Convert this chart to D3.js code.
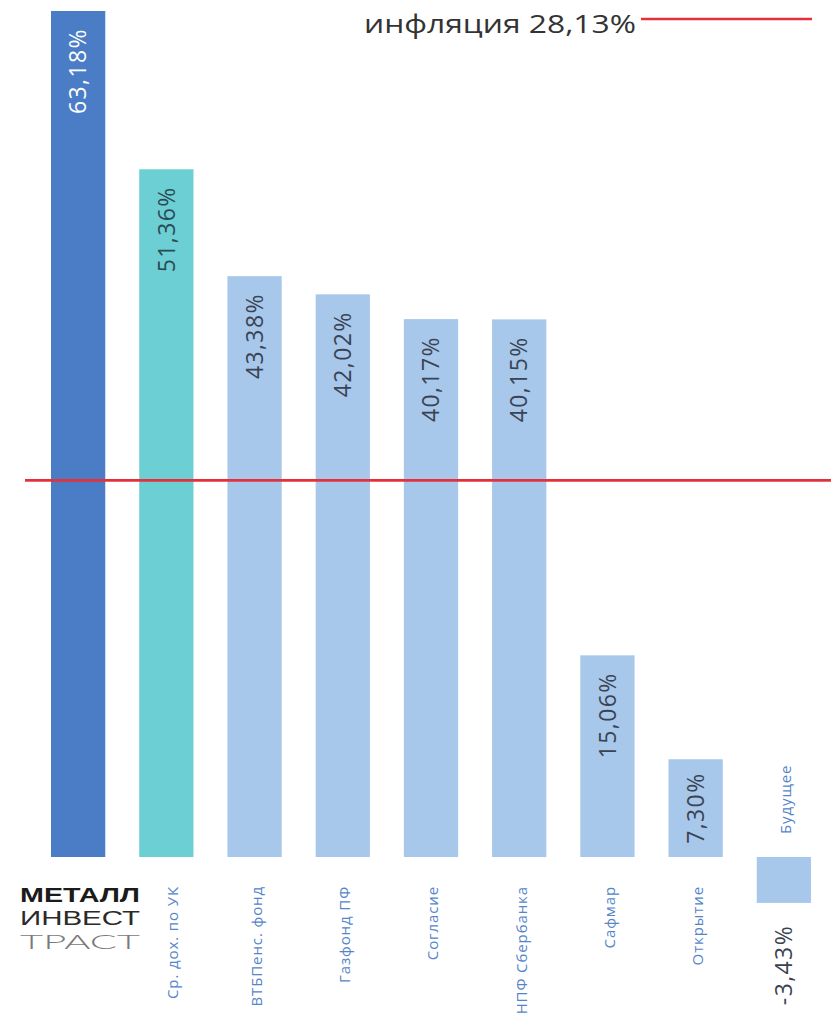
<!DOCTYPE html>
<html>
<head>
<meta charset="utf-8">
<script src="https://cdn.jsdelivr.net/npm/d3@7"></script>
<style>
  html, body { margin: 0; padding: 0; background: #fff; }
  svg { display: block; }
</style>
</head>
<body>
<svg id="chart" width="831" height="1029"></svg>
<script>
// ---- data ----
const categories = ["Металл Инвест Траст", "Ср. дох. по УК", "ВТБПенс. фонд", "Газфонд ПФ", "Согласие", "НПФ Сбербанка", "Сафмар", "Открытие", "Будущее"];
const values = [63.18, 51.36, 43.38, 42.02, 40.17, 40.15, 15.06, 7.30, -3.43];
const inflationValue = 28.13;
const inflationLabel = "инфляция";
const logoLines = ["МЕТАЛЛ", "ИНВЕСТ", "ТРАСТ"];

// ---- styles ----
const FONT = "'Open Sans', 'Noto Sans', sans-serif";
const barColor = i => i === 0 ? "#4a7dc6" : (i === 1 ? "#6ccfd3" : "#a7c7eb");
const valueColor = i => i === 0 ? "#ffffff" : (i === 1 ? "#2c4a55" : "#3a4352");
const catColor = "#5585c9";
const red = "#e3313c";

const ru = d3.formatLocale({decimal: ",", thousands: " ", grouping: [3], currency: ["", " ₽"], minus: "-"});
const fmt = v => ru.format(".2f")(v) + "%";

const svg = d3.select("#chart");

const x = d3.scaleBand()
  .domain(categories)
  .range([51, 811])
  .paddingInner(0.385)
  .paddingOuter(0);

const y = d3.scaleLinear()
  .domain([0, d3.max(values)])
  .range([857, 11]);

const data = categories.map((c, i) => ({c, v: values[i], i}));

// bars
svg.append("g").selectAll("rect")
  .data(data)
  .join("rect")
  .attr("x", d => x(d.c))
  .attr("width", x.bandwidth())
  .attr("y", d => Math.min(y(d.v), y(0)))
  .attr("height", d => Math.abs(y(d.v) - y(0)))
  .attr("fill", d => barColor(d.i));

// inflation line
svg.append("line")
  .attr("x1", 25).attr("x2", 831)
  .attr("y1", y(inflationValue)).attr("y2", y(inflationValue))
  .attr("stroke", red).attr("stroke-width", 2.6);

// legend
svg.append("text")
  .attr("x", 636).attr("y", 33)
  .attr("text-anchor", "end")
  .attr("font-family", FONT)
  .attr("font-size", 25)
  .attr("fill", "#333")
  .attr("textLength", 272)
  .attr("lengthAdjust", "spacingAndGlyphs")
  .text(inflationLabel + " " + fmt(inflationValue));
svg.append("line")
  .attr("x1", 641).attr("x2", 812)
  .attr("y1", 19).attr("y2", 19)
  .attr("stroke", red).attr("stroke-width", 2.4);

// value labels
const vg = svg.append("g");
data.forEach(d => {
  const cx = x(d.c) + x.bandwidth() / 2;
  const t = vg.append("text")
    .attr("font-family", FONT)
    .attr("font-size", 23)
    .attr("letter-spacing", 1.4)
    .attr("fill", valueColor(d.i))
    .attr("text-anchor", "end")
    .attr("dy", "0.36em")
    .text(fmt(d.v));
  const len = t.node().getComputedTextLength();
  let ty;
  if (d.v >= 0) {
    const h = y(0) - y(d.v);
    const off = Math.min(17, (h - len) / 2);
    ty = y(d.v) + off;
  } else {
    ty = y(d.v) + 22;
    t.attr("fill", "#3a4352");
  }
  t.attr("transform", `translate(${cx},${ty}) rotate(-90)`);
});

// category labels
const cg = svg.append("g");
data.forEach(d => {
  if (d.i === 0) return;
  const cx = x(d.c) + x.bandwidth() / 2 + (d.i === 1 ? 6 : 2);
  const t = cg.append("text")
    .attr("font-family", FONT)
    .attr("font-size", 15)
    .attr("letter-spacing", 0.9)
    .attr("fill", catColor)
    .attr("dy", "0.36em")
    .text(d.c);
  if (d.v >= 0) {
    t.attr("text-anchor", "end")
      .attr("transform", `translate(${cx},886) rotate(-90)`);
  } else {
    t.attr("text-anchor", "start")
      .attr("transform", `translate(${cx},${y(0) - 23}) rotate(-90)`);
  }
});

// logo
const logo = svg.append("g");
const logoStyles = [
  {f: "'Liberation Sans', " + FONT, w: 700, fill: "#1b1b1b", y: 902, size: 20},
  {f: "'Liberation Sans', " + FONT, w: 400, fill: "#2a2a2a", y: 925, size: 20.5},
  {f: "Lato, " + FONT, w: 300, fill: "#7a7a7a", y: 949, size: 20}
];
logoLines.forEach((s, i) => {
  logo.append("text")
    .attr("x", 20).attr("y", logoStyles[i].y)
    .attr("font-family", logoStyles[i].f)
    .attr("font-size", logoStyles[i].size)
    .attr("font-weight", logoStyles[i].w)
    .attr("fill", logoStyles[i].fill)
    .attr("textLength", 120)
    .attr("lengthAdjust", "spacingAndGlyphs")
    .text(s);
});
</script>
</body>
</html>
